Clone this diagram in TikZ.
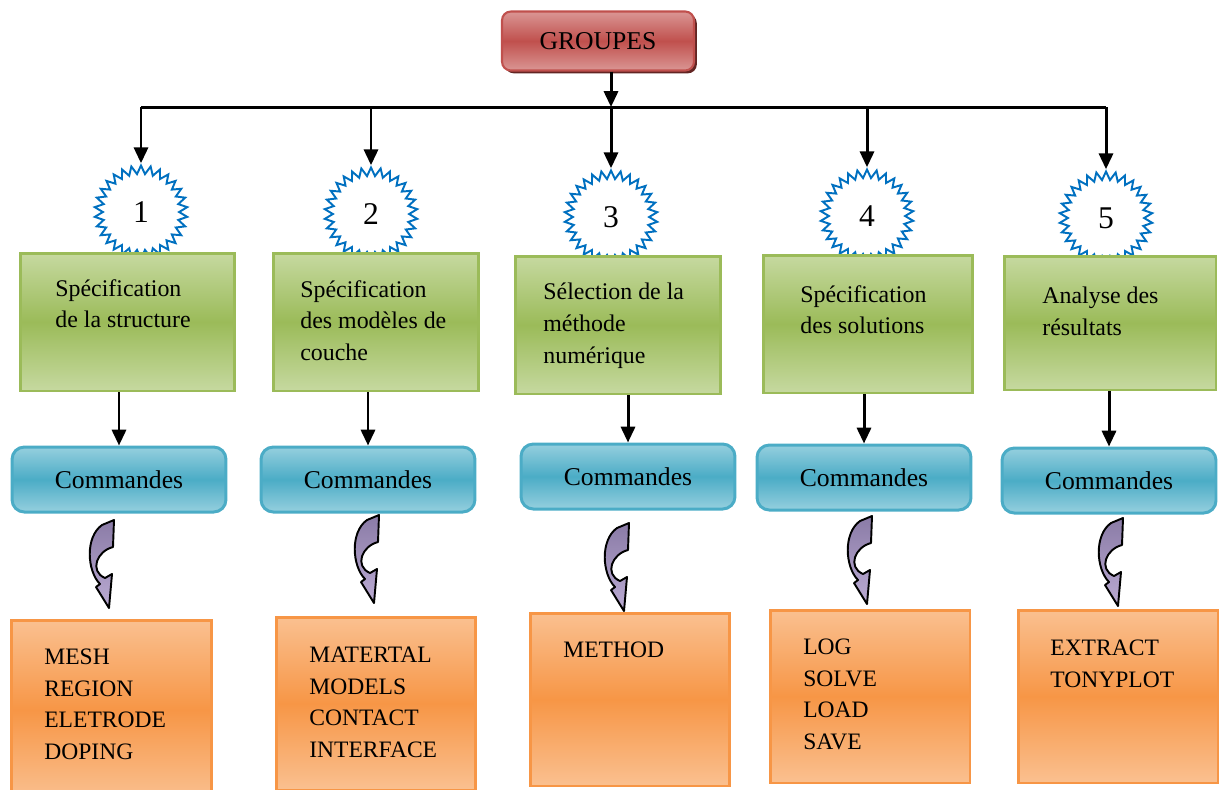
\documentclass[tikz,border=0pt]{standalone}
\usepackage{fontspec}
\setmainfont{Liberation Serif}
\usetikzlibrary{positioning, shapes.geometric, arrows.meta, shadows}

\definecolor{grpred}{HTML}{C0504D}
\definecolor{grplight}{HTML}{DA9694}
\definecolor{grpdark}{HTML}{632523}
\definecolor{stepgreen}{HTML}{9BBB59}
\definecolor{steplight}{HTML}{C6D9A0}
\definecolor{cmdblue}{HTML}{4BACC6}
\definecolor{cmdlight}{HTML}{95CFDE}
\definecolor{kwdorange}{HTML}{F79646}
\definecolor{kwdlight}{HTML}{FAC090}
\definecolor{starblue}{HTML}{0070C0}
\definecolor{curvdark}{HTML}{8A7BA6}
\definecolor{curvlight}{HTML}{BBABD3}

\begin{document}
\begin{tikzpicture}[x=0.02cm, y=-0.02cm,
    arr/.style={line width=1.7pt, -{Triangle[length=9pt, width=8pt]}},
    grpbox/.style={draw=grpred, line width=1.2pt, rounded corners=5pt,
      top color=grplight, bottom color=grplight, middle color=grpred,
      minimum width=3.84cm, minimum height=1.18cm,
      font=\fontsize{14.6}{17}\selectfont,
      drop shadow={shadow xshift=1.6pt, shadow yshift=-1.6pt, fill=grpdark, opacity=1}},
    numstar/.style={star, star points=30, star point ratio=1.22, draw=starblue,
      line width=1.1pt, minimum size=1.86cm, inner sep=0pt,
      font=\fontsize{18}{20}\selectfont},
    stepbox/.style={draw=stepgreen, line width=1.7pt,
      top color=steplight, bottom color=steplight, middle color=stepgreen,
      minimum height=2.76cm},
    cmdbox/.style={draw=cmdblue, line width=1.7pt, rounded corners=7pt,
      top color=cmdlight, bottom color=cmdlight, middle color=cmdblue,
      minimum width=4.28cm, minimum height=1.3cm,
      font=\fontsize{14.6}{17}\selectfont},
    kwdbox/.style={draw=kwdorange, line width=1.7pt,
      top color=kwdlight, bottom color=kwdlight, middle color=kwdorange,
      minimum width=4cm, minimum height=3.46cm},
    steptxt/.style={align=left, inner sep=0pt, anchor=north west,
      font=\fontsize{13.6}{18.1}\selectfont},
    kwdtxt/.style={align=left, inner sep=0pt, anchor=north west,
      font=\fontsize{13.4}{17.9}\selectfont},
    curv/.style={draw=black, line width=1.1pt, line join=round,
      top color=curvdark, bottom color=curvlight}]

  \clip (0,0) rectangle (1220,789);

  % top of the tree
  \node[grpbox] (grp) at (598,41) {GROUPES};
  \coordinate (bar) at (0,107);

  % numbered stars
  \node[numstar] (s1) at (141,212) {1};
  \node[numstar] (s2) at (371,214) {2};
  \node[numstar] (s3) at (611,217) {3};
  \node[numstar] (s4) at (867,216) {4};
  \node[numstar] (s5) at (1106,218) {5};

  \draw[line width=1.7pt] (s1.north |- bar) -- (s5.north |- bar);
  \draw[arr] (grp.south -| s3.north) -- (bar -| s3.north);
  \foreach \s in {s1,s2,s3,s4,s5}
    \draw[arr] (\s.north |- bar) -- (\s.north);

  % green steps
  \node[stepbox, minimum width=4.3cm]  (g1) at (127.5,322) {};
  \node[stepbox, minimum width=4.12cm] (g2) at (376,322) {};
  \node[stepbox, minimum width=4.12cm] (g3) at (618,325) {};
  \node[stepbox, minimum width=4.2cm]  (g4) at (868,324) {};
  \node[stepbox, minimum width=4.24cm, minimum height=2.68cm] (g5) at (1110,323) {};

  \node[steptxt] (t1) at (55,279) {Spécification\\de la structure};
  \node[steptxt] (t2) at (300,280) {Spécification\\des modèles de\\couche};
  \node[steptxt] (t3) at (543,283) {Sélection de la\\méthode\\numérique};
  \node[steptxt] (t4) at (800,285) {Spécification\\des solutions};
  \node[steptxt] (t5) at (1042,287) {Analyse des\\résultats};

  % blue command boxes
  \node[cmdbox] (b1) at (119,479.5) {Commandes};
  \node[cmdbox] (b2) at (368,479.5) {Commandes};
  \node[cmdbox] (b3) at (628,476.5) {Commandes};
  \node[cmdbox] (b4) at (864,477.5) {Commandes};
  \node[cmdbox] (b5) at (1109,480.5) {Commandes};

  \foreach \i in {1,...,5}
    \draw[arr] (g\i.south -| b\i.north) -- (b\i.north);

  % curved arrows
  \foreach \ax/\ay in {85/515, 350/510, 600/518, 843/511, 1094/513}
    \path[curv, shift={(\ax,\ay)}] (17,10) -- (29,5) -- (28,32)
      .. controls (12,36) and (4,56) .. (20,63) -- (27,59) -- (24,93)
      -- (11,72) -- (15,69) .. controls (2,56) and (0,22) .. (17,10) -- cycle;

  % orange keyword boxes
  \node[kwdbox, minimum height=3.6cm] (k1) at (111.5,710) {};
  \node[kwdbox] (k2) at (376,703.5) {};
  \node[kwdbox] (k3) at (630,699.5) {};
  \node[kwdbox] (k4) at (870,696.5) {};
  \node[kwdbox] (k5) at (1118,696.5) {};

  \node[kwdtxt] (w1) at (44,649) {MESH\\REGION\\ELETRODE\\DOPING};
  \node[kwdtxt] (w2) at (309,647) {MATERTAL\\MODELS\\CONTACT\\INTERFACE};
  \node[kwdtxt] (w3) at (563,642) {METHOD};
  \node[kwdtxt] (w4) at (803,639) {LOG\\SOLVE\\LOAD\\SAVE};
  \node[kwdtxt] (w5) at (1050,640) {EXTRACT\\TONYPLOT};
\end{tikzpicture}
\end{document}
